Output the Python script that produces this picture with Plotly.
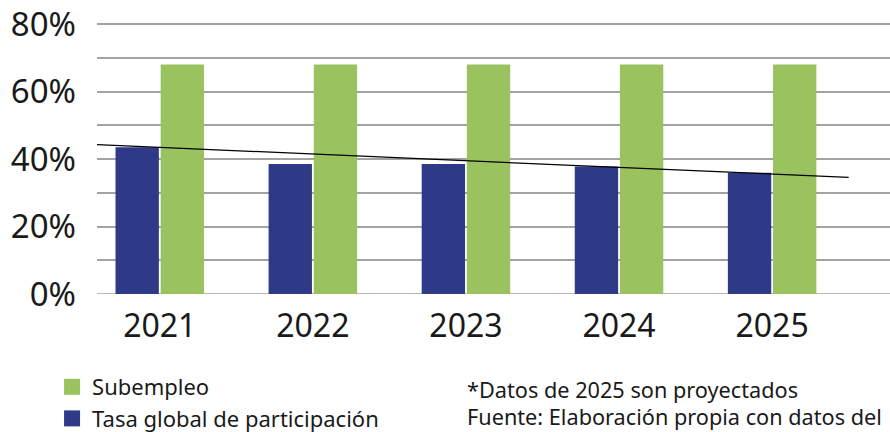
import numpy as np
import plotly.graph_objects as go

years = ["2021", "2022", "2023", "2024", "2025"]
tasa_global = [43.5, 38.5, 38.5, 37.8, 35.9]
subempleo = [68.0, 68.0, 68.0, 68.0, 68.0]
trend_read = [43.5, 41.5, 39.4, 37.5, 35.6]  # trend line level read at each year
y_ticks = [0, 20, 40, 60, 80]
y_tick_text = ["0%", "20%", "40%", "60%", "80%"]
legend_names = ["Subempleo", "Tasa global de participación"]
notes = ["*Datos de 2025 son proyectados", "Fuente: Elaboración propia con datos del"]

BLUE = "#2e3a88"
GREEN = "#9ac35f"
GRID = "#a3a3a3"
TXT = "#1a1a1a"
FONT = "Noto Sans"

x_idx = np.arange(len(years))
x_range = [-0.41, 4.77]
coef = np.polyfit(x_idx, trend_read, 1)
trend_x = np.array([x_range[0], 4.5])
trend_y = np.polyval(coef, trend_x)

fig = go.Figure()
fig.add_trace(go.Bar(x=x_idx, y=tasa_global, name=legend_names[1], showlegend=False,
                     marker=dict(color=BLUE, line=dict(width=0))))
fig.add_trace(go.Bar(x=x_idx, y=subempleo, name=legend_names[0], showlegend=False,
                     marker=dict(color=GREEN, line=dict(width=0))))
fig.add_trace(go.Scatter(x=trend_x, y=trend_y, mode="lines", showlegend=False,
                         line=dict(color="black", width=1.3), hoverinfo="skip"))
# legend entries (square swatches)
for name, col, grp in [(legend_names[0], GREEN, "a"), (legend_names[1], BLUE, "b")]:
    fig.add_trace(go.Scatter(x=[None], y=[None], mode="markers", name=name, legendgroup=grp,
                             marker=dict(symbol="square", size=17, color=col)))

fig.update_layout(
    width=890, height=432,
    margin=dict(l=97, r=0, t=23, b=138, autoexpand=False),
    paper_bgcolor="white", plot_bgcolor="white",
    barmode="group", bargap=0.41, bargroupgap=0.04,
    font=dict(family=FONT, color=TXT),
    showlegend=True,
    legend=dict(orientation="v", traceorder="normal", x=0.0585, y=1 - 366 / 432,
                xref="container", yref="container",
                xanchor="left", yanchor="top", font=dict(size=22, family=FONT, color=TXT),
                itemsizing="trace", tracegroupgap=0, bgcolor="rgba(0,0,0,0)"),
    xaxis=dict(range=x_range, tickmode="array", tickvals=list(x_idx), ticktext=years,
               showgrid=False, zeroline=False, showline=False, ticks="", automargin=False,
               tickfont=dict(size=32, family=FONT, color=TXT), ticklabelstandoff=10),
    yaxis=dict(range=[0, 80.3], tickmode="array", tickvals=y_ticks, ticktext=y_tick_text,
               showgrid=True, gridcolor=GRID, gridwidth=1.5, zeroline=False, automargin=False,
               showline=False, ticks="", ticklabelstandoff=20,
               minor=dict(dtick=10, showgrid=True, gridcolor=GRID, gridwidth=1.5),
               tickfont=dict(size=33, family=FONT, color=TXT)),
    annotations=[
        dict(text=notes[0], xref="paper", yref="paper", x=(465 - 97) / 793, y=(294 - 389) / 271,
             xanchor="left", yanchor="middle", showarrow=False,
             font=dict(size=21.7, family=FONT, color=TXT)),
        dict(text=notes[1], xref="paper", yref="paper", x=(465 - 97) / 793, y=(294 - 416) / 271,
             xanchor="left", yanchor="middle", showarrow=False,
             font=dict(size=21.7, family=FONT, color=TXT)),
    ],
)
fig.add_shape(type="line", xref="paper", yref="y", x0=0, x1=1, y0=0, y1=0,
              line=dict(color=GRID, width=1.5), layer="below")

fig.write_html("out.html", config={"displayModeBar": False},
               post_script="document.body.style.margin='0';")
